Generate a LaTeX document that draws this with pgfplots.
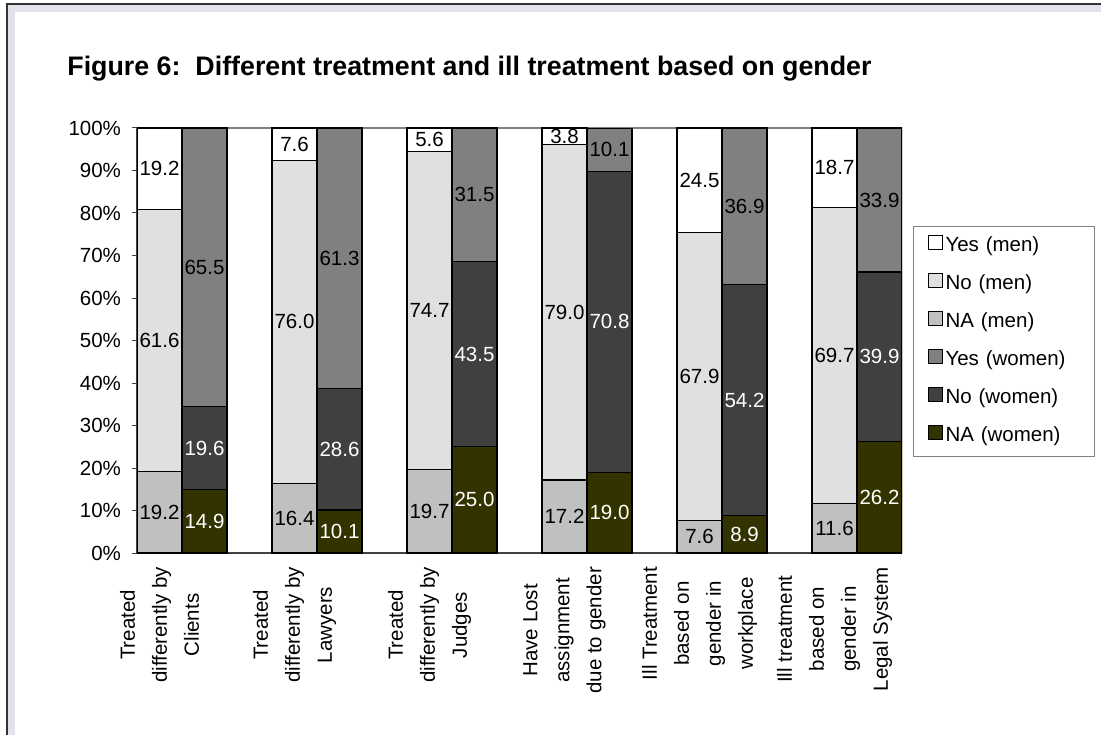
\documentclass[border=0pt]{standalone}
\usepackage{fontspec}
\setmainfont{Liberation Sans}
\usepackage{pgfplots}
\pgfplotsset{compat=1.18}

\definecolor{yesmen}{HTML}{FFFFFF}
\definecolor{nomen}{HTML}{E0E0E0}
\definecolor{namen}{HTML}{C0C0C0}
\definecolor{yeswomen}{HTML}{808080}
\definecolor{nowomen}{HTML}{404040}
\definecolor{nawomen}{HTML}{333300}
\definecolor{band}{HTML}{E2E2EA}

% 1 px of the reference = 0.5pt
\pgfplotsset{
  chartbase/.style={
    at={(68.5pt,90.5pt)}, anchor=south west,
    scale only axis, width=382.5pt, height=212.5pt,
    xmin=-0.5, xmax=16.5, ymin=0, ymax=100,
    ybar stacked, bar width=1,
    /pgf/number format/assume math mode=true,
    every axis plot/.append style={draw=black, line width=0.6pt},
    nodes near coords={\pgfmathprintnumber[fixed,fixed zerofill,precision=1]{\pgfplotspointmeta}},
    every node near coord/.append style={
      anchor=center, inner sep=0pt,
      font=\fontsize{10.25}{12}\selectfont},
  },
}

\begin{document}
\begin{tikzpicture}
\path[use as bounding box] (0,0) rectangle (550.5pt,367pt);
% chart frame (only its left and top edges are in the picture)
\fill[band] (3.5pt,-5pt) rectangle (560pt,365pt);
\fill[white] (7.5pt,-5pt) rectangle (560pt,361pt);
\draw[black!80, line width=0.6pt] (3.5pt,-5pt) -- (3.5pt,365pt) -- (560pt,365pt);

\node[anchor=base west, inner sep=0pt, font=\fontsize{13.4}{16}\selectfont\bfseries]
  at (33.5pt,329pt) {Figure 6:\ \ Different treatment and ill treatment based on gender};

% men
\begin{axis}[chartbase,
  axis x line*=bottom, axis y line*=left,
  axis line style={-, black!75, line width=0.6pt},
  tick align=outside,
  ytick={0,10,...,100},
  yticklabel={\pgfmathprintnumber{\tick}\%},
  yticklabel style={font=\fontsize{10.25}{12}\selectfont, xshift=-2pt},
  major tick length=2.5pt,
  every tick/.style={black!75, line width=0.5pt},
  xtick={0,3,6,9,12,15},
  x tick style={draw=none},
  minor xtick={-0.5,0.5,...,16.5},
  minor x tick style={black!75, line width=0.5pt},
  minor tick length=2.5pt,
  xticklabels={{Treated\\differently by\\Clients},
               {Treated\\differently by\\Lawyers},
               {Treated\\differently by\\Judges},
               {Have Lost\\assignment\\due to gender},
               {Ill Treatment\\based on\\gender in\\workplace},
               {Ill treatment\\based on\\gender in\\Legal System}},
  xticklabel style={rotate=90, anchor=east, align=center,
    font=\fontsize{10.25}{16}\selectfont, xshift=-1pt},
]
\addplot[fill=namen] coordinates {(0,19.2) (3,16.4) (6,19.7) (9,17.2) (12,7.6) (15,11.6)};
\addplot[fill=nomen] coordinates {(0,61.6) (3,76.0) (6,74.7) (9,79.0) (12,67.9) (15,69.7)};
\addplot[fill=yesmen] coordinates {(0,19.2) (3,7.6) (6,5.6) (9,3.8) (12,24.5) (15,18.7)};
\draw[gray, line width=0.6pt] (axis cs:-0.5,100) -- (axis cs:16.5,100);
\end{axis}

% women
\begin{axis}[chartbase, hide axis,
  legend cell align=left,
  legend style={at={(1.0144,0.769)}, anchor=north west,
    draw=gray, line width=0.5pt, inner xsep=7pt, inner ysep=3.5pt,
    row sep=6pt, font=\fontsize{10.25}{12}\selectfont,
    nodes={inner sep=1.5pt, text height=7.5pt, text depth=2.5pt},
    /tikz/column 2/.style={text width=66pt}},
  legend image code/.code={\draw[#1, draw=black, line width=0.5pt] (0pt,-1.2pt) rectangle (7pt,5.8pt);},
]
\addlegendimage{fill=yesmen}
\addlegendentry{Yes (men)}
\addlegendimage{fill=nomen}
\addlegendentry{No (men)}
\addlegendimage{fill=namen}
\addlegendentry{NA (men)}
\addlegendimage{fill=yeswomen}
\addlegendentry{Yes (women)}
\addlegendimage{fill=nowomen}
\addlegendentry{No (women)}
\addlegendimage{fill=nawomen}
\addlegendentry{NA (women)}
\addplot[fill=nawomen, forget plot, every node near coord/.append style={text=white}]
  coordinates {(1,14.9) (4,10.1) (7,25.0) (10,19.0) (13,8.9) (16,26.2)};
\addplot[fill=nowomen, forget plot, every node near coord/.append style={text=white}]
  coordinates {(1,19.6) (4,28.6) (7,43.5) (10,70.8) (13,54.2) (16,39.9)};
\addplot[fill=yeswomen, forget plot]
  coordinates {(1,65.5) (4,61.3) (7,31.5) (10,10.1) (13,36.9) (16,33.9)};
\end{axis}
\end{tikzpicture}
\end{document}
